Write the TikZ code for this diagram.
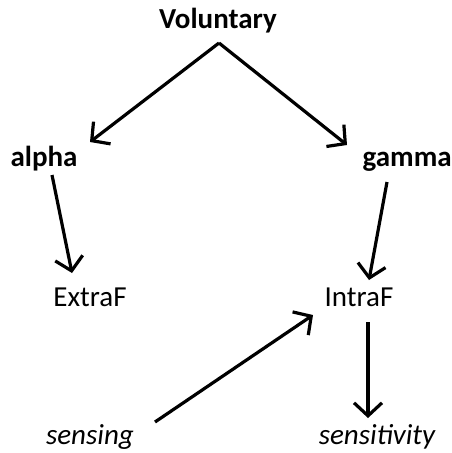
\documentclass[tikz,border=0pt]{standalone}
\usepackage{fontspec}
\setmainfont{Carlito}
\usetikzlibrary{arrows.meta}

\begin{document}
\begin{tikzpicture}[
    x=1pt, y=-1pt,
    >={Straight Barb[length=13pt,width=28pt]},
    line width=3.2pt,
    every node/.style={inner sep=0pt, anchor=base, font=\fontsize{29}{33}\selectfont}
]
  \useasboundingbox (0,0) rectangle (451,453);

  % nodes
  \node (V)     at (218,28)  {\bfseries Voluntary};
  \node (alpha) at (44,166)  {\bfseries alpha};
  \node[anchor=base west] (gamma) at (361,166) {\bfseries gamma};
  \node (extra) at (90,306)  {ExtraF};
  \node (intra) at (359,306) {IntraF};
  \node (sens)  at (90,444)  {\itshape sensing};
  \node (sensy) at (377,444) {\itshape sensitivity};

  % edges
  \draw[->] ([xshift=1pt,yshift=-15pt]V.base) -- ([xshift=46pt,yshift=24pt]alpha.base);
  \draw[->] ([xshift=1pt,yshift=-15pt]V.base) -- ([xshift=-14pt,yshift=21pt]gamma.base west);
  \draw[->] ([xshift=8pt,yshift=-9pt]alpha.base) -- ([xshift=-18pt,yshift=33pt]extra.base);
  \draw[->] ([xshift=26pt,yshift=-16pt]gamma.base west) -- ([xshift=10pt,yshift=26pt]intra.base);
  \draw[->] ([xshift=65pt,yshift=22pt]sens.base) -- ([xshift=-46pt,yshift=-9pt]intra.base);
  \draw[->] ([xshift=9pt,yshift=-16pt]intra.base) -- ([xshift=-9pt,yshift=26pt]sensy.base);
\end{tikzpicture}
\end{document}
